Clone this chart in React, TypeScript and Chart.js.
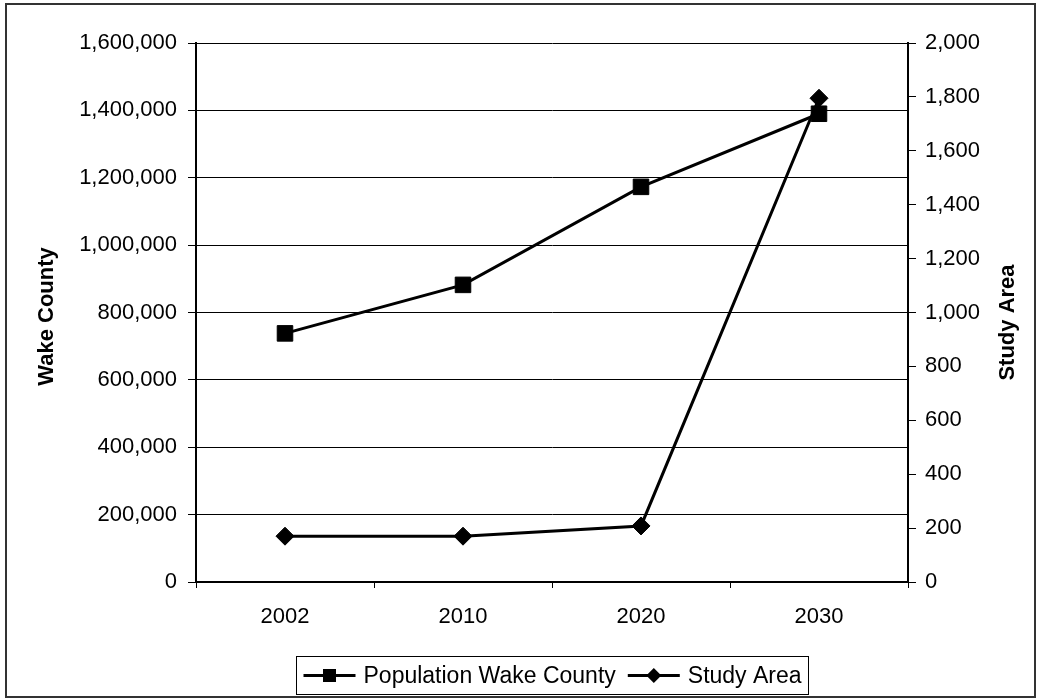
import React, { useEffect, useRef } from "react";
import { Chart, registerables } from "chart.js";

Chart.register(...registerables);

const years = ["2002", "2010", "2020", "2030"];
const wakeCounty = [738000, 882000, 1173000, 1390000];
const studyArea = [170, 170, 208, 1795];
const wakeLabel = "Population Wake County";
const studyLabel = "Study Area";
const leftTitle = "Wake County";
const rightTitle = "Study Area";
const leftMax = 1600000;
const leftStep = 200000;
const rightMax = 2000;
const rightStep = 200;

const FONT = '"Liberation Sans", Arial, Helvetica, sans-serif';
const W = 1040;
const H = 700;
const PLOT_LEFT = 196;
const PLOT_RIGHT = 908;
const PLOT_TOP = 43;
const PLOT_BOTTOM = 582;
const X_AXIS_H = 44;

const fmt = (v: number) => v.toLocaleString("en-US");

const decor = {
  id: "decor",
  afterDraw(chart: any) {
    const ctx: CanvasRenderingContext2D = chart.ctx;
    const area = chart.chartArea;
    ctx.save();
    // outer frame
    ctx.strokeStyle = "#333";
    ctx.lineWidth = 2;
    ctx.strokeRect(6, 4, 1029, 693);

    // axis titles
    ctx.fillStyle = "#000";
    ctx.font = `bold 22px ${FONT}`;
    ctx.textAlign = "center";
    ctx.textBaseline = "middle";
    const cy = (area.top + area.bottom) / 2 + 4;
    ctx.save();
    ctx.translate(47, cy);
    ctx.rotate(-Math.PI / 2);
    ctx.fillText(leftTitle, 0, 0);
    ctx.restore();
    ctx.save();
    ctx.translate(1008, cy + 6);
    ctx.rotate(-Math.PI / 2);
    ctx.fillText(rightTitle, 0, 0);
    ctx.restore();

    // legend
    ctx.font = `23px ${FONT}`;
    const lineLen = 52;
    const gapText = 8;
    const gapItems = 12;
    const pad = 7;
    const w1 = ctx.measureText(wakeLabel).width;
    const w2 = ctx.measureText(studyLabel).width;
    const total = pad + lineLen + gapText + w1 + gapItems + lineLen + gapText + w2 + pad;
    const cx = (area.left + area.right) / 2;
    const bx = Math.round(cx - total / 2) + 0.5;
    const by = 656.5;
    const bh = 38;
    ctx.strokeStyle = "#000";
    ctx.lineWidth = 1;
    ctx.strokeRect(bx, by, Math.round(total), bh);
    const ly = by + bh / 2;
    let x = bx + pad;
    // item 1
    ctx.lineWidth = 3;
    ctx.beginPath();
    ctx.moveTo(x, ly);
    ctx.lineTo(x + lineLen, ly);
    ctx.stroke();
    ctx.fillStyle = "#000";
    ctx.fillRect(x + lineLen / 2 - 6.5, ly - 6.5, 13, 13);
    x += lineLen + gapText;
    ctx.textAlign = "left";
    ctx.textBaseline = "middle";
    ctx.fillText(wakeLabel, x, ly + 1);
    x += w1 + gapItems;
    // item 2
    ctx.beginPath();
    ctx.moveTo(x, ly);
    ctx.lineTo(x + lineLen, ly);
    ctx.stroke();
    const dx = x + lineLen / 2;
    ctx.beginPath();
    ctx.moveTo(dx, ly - 7.5);
    ctx.lineTo(dx + 7.5, ly);
    ctx.lineTo(dx, ly + 7.5);
    ctx.lineTo(dx - 7.5, ly);
    ctx.closePath();
    ctx.fill();
    x += lineLen + gapText;
    ctx.fillText(studyLabel, x, ly + 1);
    ctx.restore();
  },
};

export default function App() {
  const ref = useRef<HTMLCanvasElement>(null);
  useEffect(() => {
    if (!ref.current) return;
    const chart = new Chart(ref.current, {
      type: "line",
      data: {
        labels: years,
        datasets: [
          {
            label: wakeLabel,
            data: wakeCounty,
            yAxisID: "y",
            borderColor: "#000",
            backgroundColor: "#000",
            borderWidth: 3,
            pointStyle: "rect",
            pointRadius: 11,
            pointBorderWidth: 1,
            pointBackgroundColor: "#000",
            pointBorderColor: "#000",
            tension: 0,
          },
          {
            label: studyLabel,
            data: studyArea,
            yAxisID: "y1",
            borderColor: "#000",
            backgroundColor: "#000",
            borderWidth: 3,
            pointStyle: "rectRot",
            pointRadius: 9,
            pointBorderWidth: 1,
            pointBackgroundColor: "#000",
            pointBorderColor: "#000",
            tension: 0,
          },
        ],
      },
      options: {
        animation: false,
        responsive: false,
        layout: {
          padding: { left: 0, right: 0, top: PLOT_TOP, bottom: H - PLOT_BOTTOM - X_AXIS_H },
        },
        plugins: {
          legend: { display: false },
          tooltip: { enabled: false },
          title: { display: false },
        },
        scales: {
          x: {
            type: "category",
            offset: true,
            grid: {
              offset: true,
              drawOnChartArea: false,
              drawTicks: true,
              tickLength: 6,
              color: "#000",
              lineWidth: 1,
            },
            border: { display: true, color: "#000", width: 2 },
            ticks: {
              color: "#000",
              font: { family: FONT, size: 22 },
              padding: 16,
              maxRotation: 0,
            },
            afterFit: (s: any) => {
              s.height = X_AXIS_H;
            },
          },
          y: {
            position: "left",
            min: 0,
            max: leftMax,
            grid: {
              color: "#000",
              lineWidth: 1,
              drawTicks: true,
              tickLength: 8,
            },
            border: { display: true, color: "#000", width: 2 },
            ticks: {
              stepSize: leftStep,
              color: "#000",
              padding: 11,
              font: { family: FONT, size: 22 },
              callback: (v: any) => fmt(Number(v)),
            },
            afterFit: (s: any) => {
              s.width = PLOT_LEFT;
            },
          },
          y1: {
            position: "right",
            min: 0,
            max: rightMax,
            grid: {
              drawOnChartArea: false,
              color: "#000",
              lineWidth: 1,
              drawTicks: true,
              tickLength: 8,
            },
            border: { display: true, color: "#000", width: 2 },
            ticks: {
              stepSize: rightStep,
              color: "#000",
              padding: 9,
              font: { family: FONT, size: 22 },
              callback: (v: any) => fmt(Number(v)),
            },
            afterFit: (s: any) => {
              s.width = W - PLOT_RIGHT;
            },
          },
        },
      },
      plugins: [decor],
    });
    return () => chart.destroy();
  }, []);
  return (
    <div style={{ position: "absolute", left: 0, top: 0, width: W, height: H, background: "#fff" }}>
      <canvas ref={ref} width={W} height={H} style={{ display: "block", width: W, height: H }} />
    </div>
  );
}
